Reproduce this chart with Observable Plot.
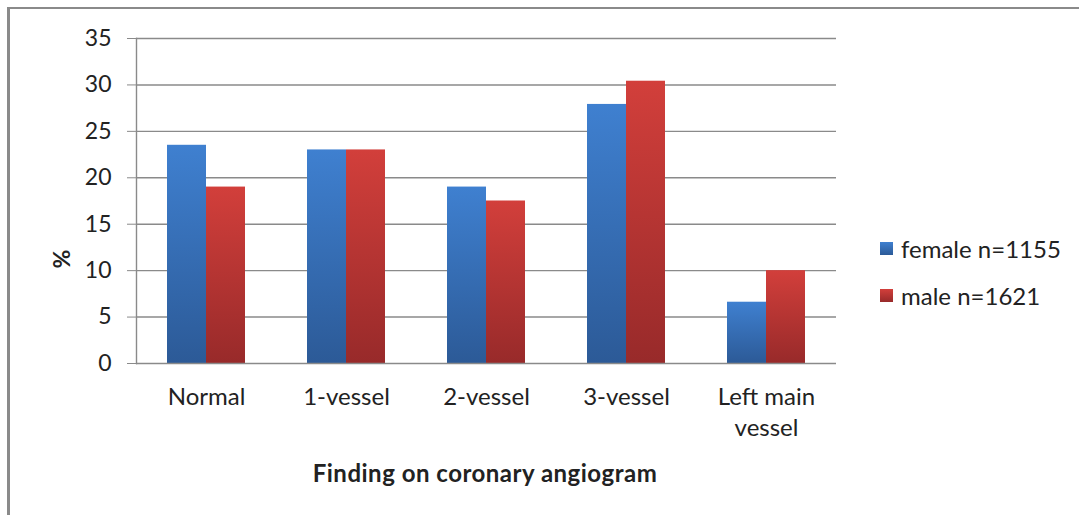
<!DOCTYPE html>
<html>
<head>
<meta charset="utf-8">
<script src="https://cdn.jsdelivr.net/npm/d3@7"></script>
<script src="https://cdn.jsdelivr.net/npm/@observablehq/plot@0.6"></script>
<style>
  html, body { margin: 0; padding: 0; background: #fff; }
  #wrap { position: relative; width: 1079px; height: 515px; overflow: hidden; font-family: Lato, sans-serif; color: #222; }
  #wrap svg { position: absolute; left: 0; top: 0; }
  .border-top { position: absolute; left: 7px; top: 7px; right: 0; height: 2px; background: #8a8a8a; }
  .border-left { position: absolute; left: 7px; top: 7px; bottom: 0; width: 2.5px; background: #8a8a8a; }
  .ylab { position: absolute; left: 61px; top: 259px; transform: translate(-50%, -50%) rotate(-90deg); font-weight: bold; font-size: 23px; }
  .xlab { position: absolute; left: 485px; top: 472px; transform: translate(-50%, -50%); font-weight: bold; font-size: 24px; letter-spacing: 0.5px; white-space: nowrap; }
  .legend { position: absolute; left: 880px; top: 225px; font-size: 24px; }
  .legend .row { display: flex; align-items: center; height: 47px; white-space: nowrap; }
  .legend .sw { width: 13px; height: 13px; margin-right: 8px; }
</style>
</head>
<body>
<div id="wrap"></div>
<script>
const categories = ["Normal", "1-vessel", "2-vessel", "3-vessel", "Left main vessel"];
const categoryLabels = ["Normal", "1-vessel", "2-vessel", "3-vessel", "Left main\nvessel"];
const female = [23.5, 23.0, 19.0, 27.9, 6.6];
const male = [19.0, 23.0, 17.5, 30.4, 10.0];
const seriesNames = ["female n=1155", "male n=1621"];
const yTicks = [0, 5, 10, 15, 20, 25, 30, 35];
const yLabel = "%";
const xLabel = "Finding on coronary angiogram";

const gradients = [
  {id: "gradFemale", top: "#3f80d0", bottom: "#2c5a97"},
  {id: "gradMale", top: "#d23f3b", bottom: "#982a2a"}
];

const data = [];
categories.forEach((c, i) => {
  data.push({cat: c, series: seriesNames[0], value: female[i]});
  data.push({cat: c, series: seriesNames[1], value: male[i]});
});

const chart = Plot.plot({
  width: 1079,
  height: 515,
  marginLeft: 134,
  marginRight: 242,
  marginTop: 38,
  marginBottom: 152,
  style: {fontFamily: "Lato, sans-serif", fontSize: "23px", color: "#222", background: "transparent"},
  fx: {domain: categories, padding: 0, label: null},
  x: {domain: seriesNames, paddingInner: 0, paddingOuter: 0.757, axis: null},
  y: {domain: [0, 35], label: null},
  color: {domain: seriesNames, range: gradients.map(g => `url(#${g.id})`)},
  marks: [
    Plot.gridY(yTicks.filter(d => d > 0), {stroke: "#8a8a8a", strokeOpacity: 1, strokeWidth: 1.4}),
    Plot.barY(data, {fx: "cat", x: "series", y: "value", fill: "series", inset: 0}),
    Plot.ruleY([0], {stroke: "#8a8a8a", strokeWidth: 1.6}),
    Plot.frame({anchor: "left", facetAnchor: "left", stroke: "#8a8a8a", strokeWidth: 1.4}),
    Plot.axisY({ticks: yTicks, tickSize: 9, tickPadding: 16, stroke: "#8a8a8a", label: null, fill: "#222", fontSize: 23}),
    Plot.axisFx({anchor: "bottom", tickSize: 0, tickPadding: 20, label: null, lineHeight: 1.28, fontSize: 24, fill: "#222",
      tickFormat: d => categoryLabels[categories.indexOf(d)]})
  ]
});

const svgns = "http://www.w3.org/2000/svg";
const defs = document.createElementNS(svgns, "defs");
gradients.forEach(g => {
  const lg = document.createElementNS(svgns, "linearGradient");
  lg.setAttribute("id", g.id);
  lg.setAttribute("x1", "0"); lg.setAttribute("y1", "0");
  lg.setAttribute("x2", "0"); lg.setAttribute("y2", "1");
  [[0, g.top], [1, g.bottom]].forEach(([o, c]) => {
    const s = document.createElementNS(svgns, "stop");
    s.setAttribute("offset", o);
    s.setAttribute("stop-color", c);
    lg.appendChild(s);
  });
  defs.appendChild(lg);
});
chart.insertBefore(defs, chart.firstChild);

const wrap = document.getElementById("wrap");
wrap.appendChild(chart);

const bt = document.createElement("div"); bt.className = "border-top"; wrap.appendChild(bt);
const bl = document.createElement("div"); bl.className = "border-left"; wrap.appendChild(bl);

const yl = document.createElement("div"); yl.className = "ylab"; yl.textContent = yLabel; wrap.appendChild(yl);
const xl = document.createElement("div"); xl.className = "xlab"; xl.textContent = xLabel; wrap.appendChild(xl);

const legend = document.createElement("div"); legend.className = "legend";
seriesNames.forEach((name, i) => {
  const row = document.createElement("div"); row.className = "row";
  const sw = document.createElement("div"); sw.className = "sw";
  sw.style.background = `linear-gradient(${gradients[i].top}, ${gradients[i].bottom})`;
  const t = document.createElement("span"); t.textContent = name;
  row.appendChild(sw); row.appendChild(t);
  legend.appendChild(row);
});
wrap.appendChild(legend);
</script>
</body>
</html>
